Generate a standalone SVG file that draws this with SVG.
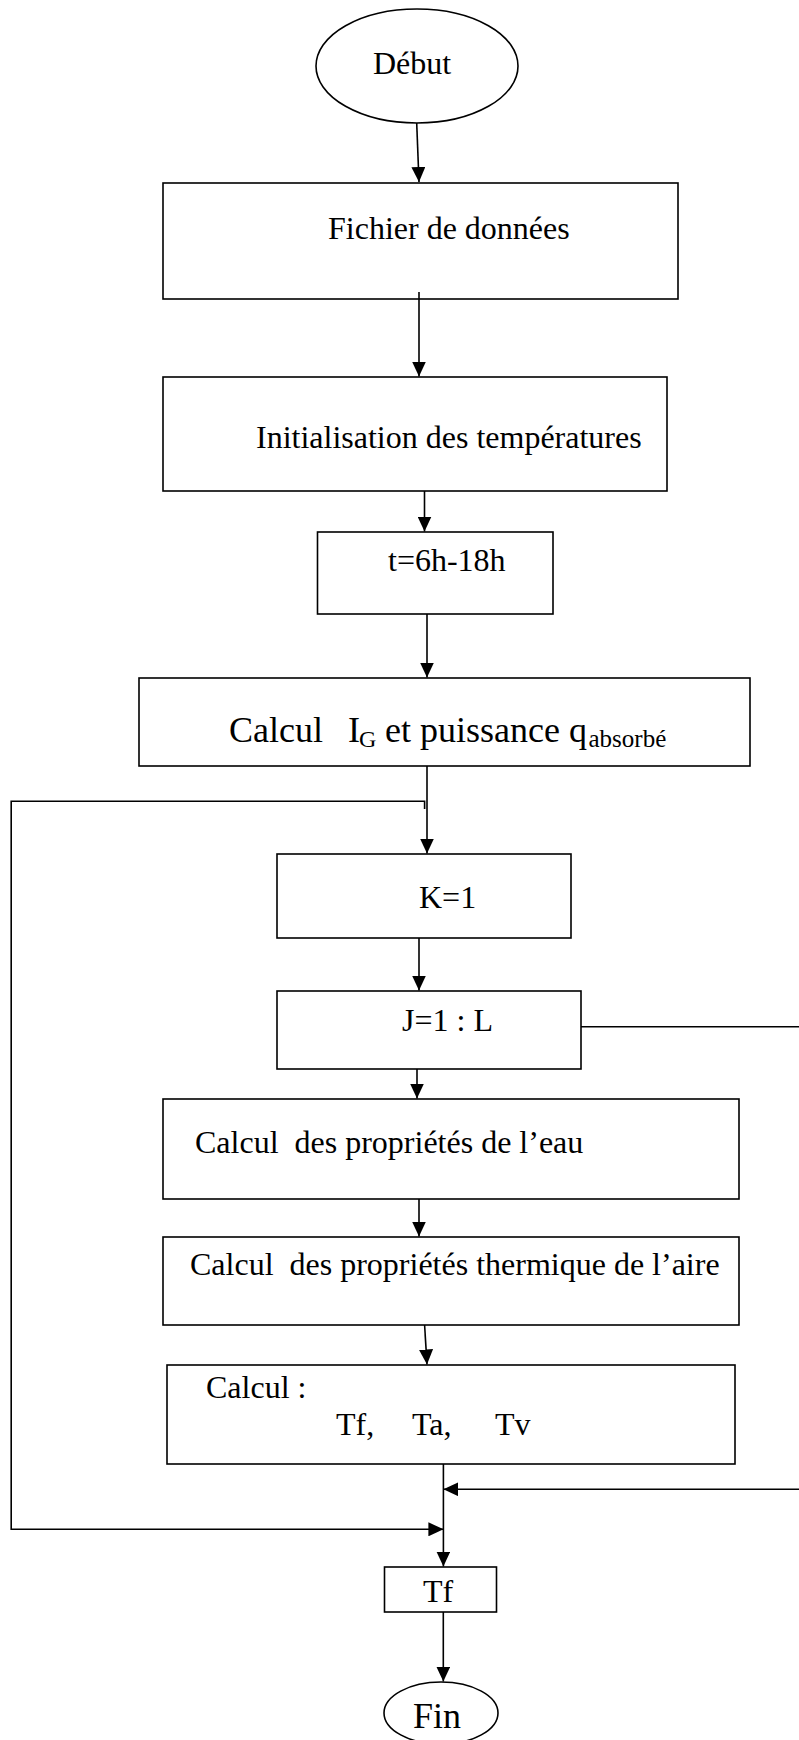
<svg xmlns="http://www.w3.org/2000/svg" width="799" height="1740" viewBox="0 0 799 1740">
<style>
.n{fill:#fff;stroke:#000;stroke-width:1.6}
.t{font-family:"Liberation Serif","Times New Roman",serif;font-size:32px;fill:#000}
.c{fill:none;stroke:#000;stroke-width:1.6}
</style>
<defs>
<marker id="ah" markerUnits="userSpaceOnUse" markerWidth="15" markerHeight="14" refX="15" refY="7" orient="auto">
<path d="M0,0 L15,7 L0,14 z" fill="#000"/>
</marker>
</defs>
<rect width="799" height="1740" fill="#fff"/>
<g id="debut"><ellipse class="n" cx="417" cy="66" rx="101" ry="57"/><text class="t" x="373" y="74">Début</text></g>
<g id="fichier"><rect class="n" x="163" y="183" width="515" height="116"/><text class="t" x="328" y="239">Fichier de données</text></g>
<g id="init"><rect class="n" x="163" y="377" width="504" height="114"/><text class="t" x="256" y="448">Initialisation des températures</text></g>
<g id="temps"><rect class="n" x="317.5" y="532" width="235.5" height="82"/><text class="t" x="388" y="571">t=6h-18h</text></g>
<g id="calculIG"><rect class="n" x="139" y="678" width="611" height="88"/>
<text class="t" y="742" style="font-size:36px"><tspan x="229">Calcul</tspan><tspan x="348">I</tspan><tspan x="359" dy="5" style="font-size:24px">G</tspan><tspan x="385" dy="-5">et puissance</tspan><tspan x="569">q</tspan><tspan x="588.5" dy="5" style="font-size:25px">absorbé</tspan></text></g>
<g id="k"><rect class="n" x="277" y="854" width="294" height="84"/><text class="t" x="419" y="908">K=1</text></g>
<g id="j"><rect class="n" x="277" y="991" width="304" height="78"/><text class="t" x="402" y="1031">J=1 : L</text></g>
<g id="eau"><rect class="n" x="163" y="1099" width="576" height="100"/><text class="t" x="195" y="1153" xml:space="preserve">Calcul  des propriétés de l’eau</text></g>
<g id="aire"><rect class="n" x="163" y="1237" width="576" height="88"/><text class="t" x="190" y="1275" xml:space="preserve">Calcul  des propriétés thermique de l’aire</text></g>
<g id="calcul"><rect class="n" x="167" y="1365" width="568" height="99"/><text class="t" x="206" y="1398">Calcul :</text><text class="t" y="1435"><tspan x="336">Tf,</tspan><tspan x="412">Ta,</tspan><tspan x="495">Tv</tspan></text></g>
<g id="tf"><rect class="n" x="384.5" y="1567" width="112" height="45"/><text class="t" x="423" y="1602">Tf</text></g>
<g id="fin"><ellipse class="n" cx="441" cy="1713" rx="57" ry="31"/><text class="t" x="413" y="1728" style="font-size:36px">Fin</text></g>
<g id="connectors">
<path class="c" d="M416.7,123 L419,182" marker-end="url(#ah)"/>
<path class="c" d="M419,292 V376.5" marker-end="url(#ah)"/>
<path class="c" d="M424.5,491 V531.5" marker-end="url(#ah)"/>
<path class="c" d="M427,614 V677.5" marker-end="url(#ah)"/>
<path class="c" d="M427,766 V853.5" marker-end="url(#ah)"/>
<path class="c" d="M424.6,809 V801.3 H11.2 V1529.3 H443.4" marker-end="url(#ah)"/>
<path class="c" d="M419,938 V990.5" marker-end="url(#ah)"/>
<path class="c" d="M417,1069 V1098.5" marker-end="url(#ah)"/>
<path class="c" d="M419,1199 V1236.5" marker-end="url(#ah)"/>
<path class="c" d="M424.6,1325 L427,1364.5" marker-end="url(#ah)"/>
<path class="c" d="M581,1026.7 H806 V1489.3 H443.4" marker-end="url(#ah)"/>
<path class="c" d="M443.4,1464 V1566.5" marker-end="url(#ah)"/>
<path class="c" d="M443.3,1612 V1681.5" marker-end="url(#ah)"/>
</g>
</svg>
